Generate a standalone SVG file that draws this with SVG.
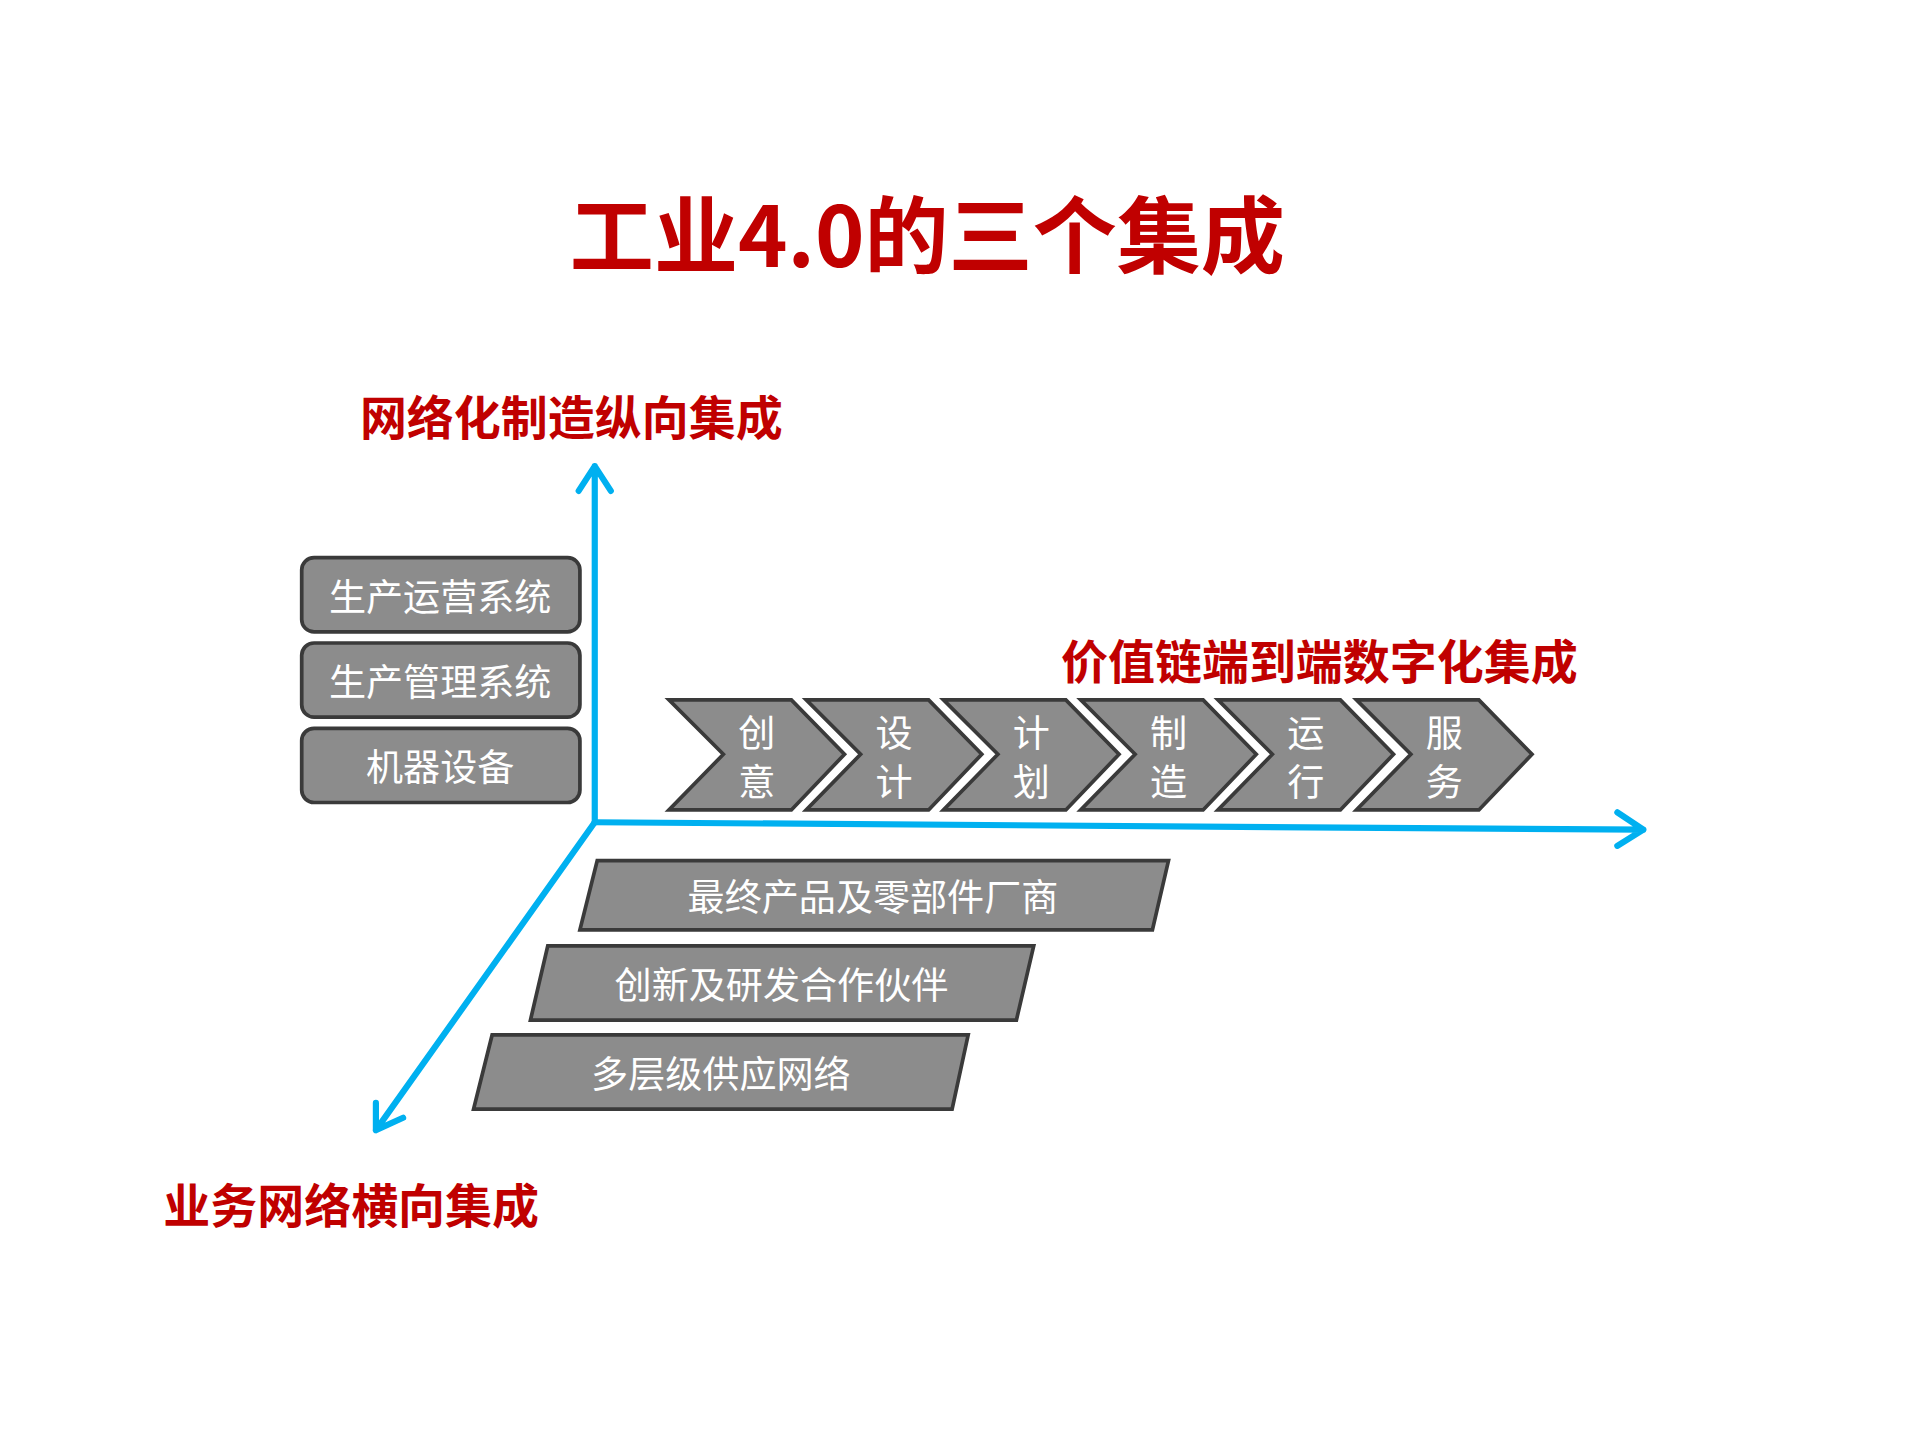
<svg xmlns="http://www.w3.org/2000/svg" width="1919" height="1439" viewBox="0 0 1919 1439">
<style>
.red{fill:#C00000;font-family:"Noto Sans CJK SC",sans-serif;font-weight:bold}
.w{fill:#fff;font-family:"Noto Sans CJK SC",sans-serif;font-size:30px;text-anchor:middle;dominant-baseline:central}
.box{fill:#8C8C8C;stroke:#3A3A3A;stroke-width:3}
.ax{stroke:#00B0F0;stroke-width:5;fill:none;stroke-linecap:round;stroke-linejoin:round}
</style>
<rect width="1919" height="1439" fill="#fff"/>
<g transform="scale(1.2365)">
<text class="red" x="750" y="216" font-size="68" text-anchor="middle">工业4.0的三个集成</text>
<text class="red" x="462" y="352" font-size="38" text-anchor="middle">网络化制造纵向集成</text>
<text class="red" x="1067" y="549" font-size="38" text-anchor="middle">价值链端到端数字化集成</text>
<text class="red" x="284" y="989" font-size="38" text-anchor="middle">业务网络横向集成</text>
<g id="connectors">
<path class="ax" d="M481 665 V377 M468 397 L481 377 L494 397"/>
<path class="ax" d="M481 665 L1329 671 M1308 657 L1329 671 L1308 684"/>
<path class="ax" d="M481 665 L304 914 M304 892 L304 914 L326 904"/>
</g>
<g id="v1"><rect class="box" x="244" y="451" width="225" height="60" rx="10"/><text class="w" x="356" y="481">生产运营系统</text></g>
<g id="v2"><rect class="box" x="244" y="520" width="225" height="60" rx="10"/><text class="w" x="356" y="550">生产管理系统</text></g>
<g id="v3"><rect class="box" x="244" y="589" width="225" height="60" rx="10"/><text class="w" x="356" y="619">机器设备</text></g>
<g id="c1"><polygon class="box" points="541,566 640,566 683,610 640,655 541,655 585,610"/><text class="w" x="612" y="591">创</text><text class="w" x="612" y="631">意</text></g>
<g id="c2"><polygon class="box" points="652,566 751,566 794,610 751,655 652,655 696,610"/><text class="w" x="723" y="591">设</text><text class="w" x="723" y="631">计</text></g>
<g id="c3"><polygon class="box" points="763,566 862,566 905,610 862,655 763,655 807,610"/><text class="w" x="834" y="591">计</text><text class="w" x="834" y="631">划</text></g>
<g id="c4"><polygon class="box" points="874,566 973,566 1016,610 973,655 874,655 918,610"/><text class="w" x="945" y="591">制</text><text class="w" x="945" y="631">造</text></g>
<g id="c5"><polygon class="box" points="985,566 1084,566 1127,610 1084,655 985,655 1029,610"/><text class="w" x="1056" y="591">运</text><text class="w" x="1056" y="631">行</text></g>
<g id="c6"><polygon class="box" points="1097,566 1196,566 1239,610 1196,655 1097,655 1141,610"/><text class="w" x="1168" y="591">服</text><text class="w" x="1168" y="631">务</text></g>
<g id="h1"><polygon class="box" points="483,696 945,696 932,752 469,752"/><text class="w" x="706" y="724">最终产品及零部件厂商</text></g>
<g id="h2"><polygon class="box" points="443,765 836,765 822,825 429,825"/><text class="w" x="632" y="795">创新及研发合作伙伴</text></g>
<g id="h3"><polygon class="box" points="398,837 783,837 770,897 383,897"/><text class="w" x="583" y="867">多层级供应网络</text></g>
</g>
</svg>
